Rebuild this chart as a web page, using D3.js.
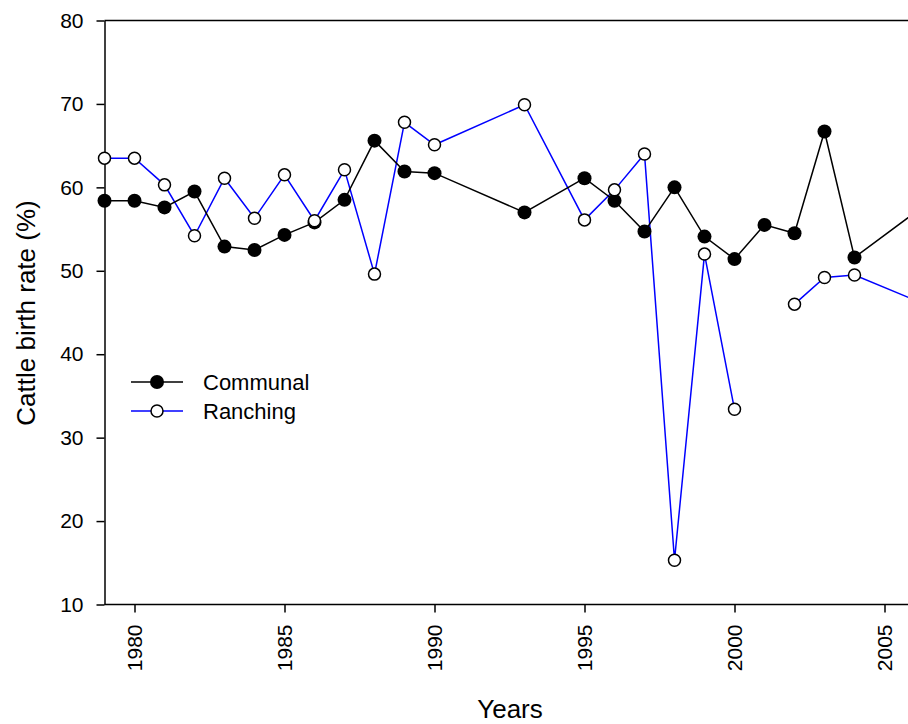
<!DOCTYPE html>
<html>
<head>
<meta charset="utf-8">
<script src="https://d3js.org/d3.v7.min.js"></script>
<style>
body { margin: 0; background: #fff; }
svg text { font-family: "Liberation Sans", Arial, sans-serif; fill: #000; }
</style>
</head>
<body>
<svg id="chart" width="908" height="724"></svg>
<script>
// years and values (null = no record)
var years     = [1979, 1980, 1981, 1982, 1983, 1984, 1985, 1986, 1987, 1988, 1989, 1990, 1993, 1995, 1996, 1997, 1998, 1999, 2000, 2001, 2002, 2003, 2004, 2007];
var communal  = [58.4, 58.4, 57.6, 59.5, 52.9, 52.5, 54.3, 55.8, 58.5, 65.6, 61.9, 61.7, 57.0, 61.1, 58.4, 54.7, 60.0, 54.1, 51.4, 55.5, 54.5, 66.7, 51.6, 59.6];
var ranching  = [63.5, 63.5, 60.3, 54.2, 61.1, 56.3, 61.5, 56.0, 62.1, 49.6, 67.8, 65.1, 69.9, 56.1, 59.7, 64.0, 15.3, 52.0, 33.4, null, 46.0, 49.2, 49.5, 45.0];
var xTicks    = [1980, 1985, 1990, 1995, 2000, 2005];
var yTicks    = [10, 20, 30, 40, 50, 60, 70, 80];

var svg = d3.select("#chart");

var x = d3.scaleLinear().domain([1979, 2005]).range([104.5, 884.5]);
var y = d3.scaleLinear().domain([10, 80]).range([604.5, 20.5]);

// axes
var yAxis = svg.append("g")
    .attr("transform", "translate(104.5,0)")
    .call(d3.axisLeft(y).tickValues(yTicks).tickSize(8).tickPadding(13).tickSizeOuter(0));

var xAxis = svg.append("g")
    .attr("transform", "translate(0,604.5)")
    .call(d3.axisBottom(x).tickValues(xTicks).tickFormat(d3.format("d")).tickSize(8).tickSizeOuter(0));

// extend the bottom axis line to the right edge
xAxis.select(".domain").attr("d", "M104.5,0H908");

[yAxis, xAxis].forEach(function(a) {
    a.select(".domain").attr("stroke-width", 1.5);
    a.selectAll(".tick line").attr("stroke-width", 1.5);
    a.selectAll(".tick text").attr("font-size", 21).attr("font-family", "Liberation Sans, Arial, sans-serif").attr("fill", "#000");
});

xAxis.selectAll(".tick text")
    .attr("transform", "rotate(-90)")
    .attr("text-anchor", "end")
    .attr("x", -20)
    .attr("y", 0)
    .attr("dy", "0.35em");

// top frame line
svg.append("line")
    .attr("x1", 104.5).attr("x2", 908)
    .attr("y1", 20.5).attr("y2", 20.5)
    .attr("stroke", "#000").attr("stroke-width", 1.5);

// axis titles
svg.append("text")
    .attr("transform", "translate(35,313) rotate(-90)")
    .attr("text-anchor", "middle")
    .attr("font-size", 26)
    .text("Cattle birth rate (%)");

svg.append("text")
    .attr("x", 510).attr("y", 718)
    .attr("text-anchor", "middle")
    .attr("font-size", 26)
    .text("Years");

// series
var commData = years.map(function(yr, i) { return {year: yr, v: communal[i]}; });
var ranchData = years.map(function(yr, i) { return {year: yr, v: ranching[i]}; });

var line = d3.line()
    .defined(function(d) { return d.v != null; })
    .x(function(d) { return x(d.year); })
    .y(function(d) { return y(d.v); });

svg.append("path").datum(ranchData)
    .attr("d", line).attr("fill", "none")
    .attr("stroke", "#0000ff").attr("stroke-width", 1.5);

svg.append("path").datum(commData)
    .attr("d", line).attr("fill", "none")
    .attr("stroke", "#000").attr("stroke-width", 1.5);

svg.selectAll(".comm").data(commData.filter(function(d) { return d.v != null; }))
    .enter().append("circle")
    .attr("cx", function(d) { return x(d.year); })
    .attr("cy", function(d) { return y(d.v); })
    .attr("r", 7).attr("fill", "#000");

svg.selectAll(".ranch").data(ranchData.filter(function(d) { return d.v != null; }))
    .enter().append("circle")
    .attr("cx", function(d) { return x(d.year); })
    .attr("cy", function(d) { return y(d.v); })
    .attr("r", 6).attr("fill", "#fff")
    .attr("stroke", "#000").attr("stroke-width", 1.5);

// legend
var legend = svg.append("g").attr("transform", "translate(131,382)");
legend.append("line").attr("x1", 0).attr("x2", 52).attr("y1", 0).attr("y2", 0)
    .attr("stroke", "#000").attr("stroke-width", 1.5);
legend.append("circle").attr("cx", 26).attr("cy", 0).attr("r", 7).attr("fill", "#000");
legend.append("text").attr("x", 72).attr("y", 0).attr("dy", "0.35em")
    .attr("font-size", 22).text("Communal");

legend.append("line").attr("x1", 0).attr("x2", 52).attr("y1", 29).attr("y2", 29)
    .attr("stroke", "#0000ff").attr("stroke-width", 1.5);
legend.append("circle").attr("cx", 26).attr("cy", 29).attr("r", 6)
    .attr("fill", "#fff").attr("stroke", "#000").attr("stroke-width", 1.5);
legend.append("text").attr("x", 72).attr("y", 29).attr("dy", "0.35em")
    .attr("font-size", 22).text("Ranching");
</script>
</body>
</html>
